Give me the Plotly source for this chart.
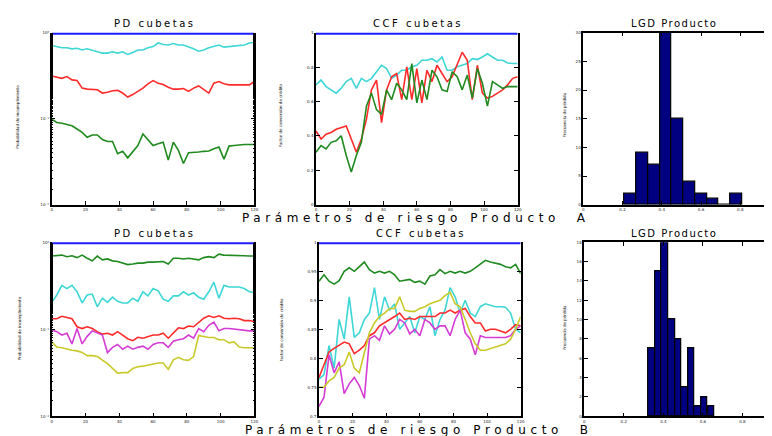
import plotly.graph_objects as go

# ---------------- data ----------------
periods = list(range(0, 121, 3))

pd_a_bucket1 = [1.0] * 41
pd_a_cyan = [0.71,0.69,0.67,0.67,0.65,0.66,0.63,0.65,0.62,0.60,0.58,0.58,0.60,0.58,0.60,0.56,0.59,0.63,0.63,0.67,0.69,0.76,0.73,0.72,0.75,0.72,0.72,0.69,0.65,0.61,0.63,0.67,0.69,0.72,0.68,0.69,0.70,0.72,0.72,0.76,0.77]
pd_a_red = [0.314,0.303,0.295,0.309,0.283,0.278,0.227,0.221,0.221,0.217,0.199,0.203,0.212,0.214,0.199,0.179,0.191,0.208,0.227,0.255,0.278,0.259,0.250,0.233,0.221,0.221,0.225,0.208,0.227,0.241,0.221,0.199,0.259,0.271,0.255,0.248,0.248,0.248,0.248,0.248,0.271]
pd_a_green = [0.0987,0.0904,0.0888,0.0865,0.0828,0.0759,0.0695,0.0609,0.0648,0.0648,0.0573,0.0543,0.0543,0.0393,0.0418,0.0351,0.0410,0.0489,0.0665,0.0573,0.0489,0.0511,0.0534,0.0330,0.0534,0.0429,0.0302,0.0403,0.0403,0.0410,0.0418,0.0422,0.0448,0.0468,0.0339,0.0481,0.0489,0.0498,0.0502,0.0502,0.0502]

ccf_a_bucket1 = [1.0] * 41
ccf_a_cyan = [0.697,0.725,0.687,0.668,0.649,0.677,0.716,0.735,0.677,0.735,0.716,0.735,0.773,0.811,0.792,0.735,0.754,0.782,0.782,0.802,0.811,0.840,0.840,0.849,0.830,0.859,0.782,0.782,0.802,0.811,0.821,0.849,0.844,0.859,0.878,0.859,0.840,0.840,0.824,0.821,0.821]
ccf_a_red = [0.429,0.382,0.410,0.420,0.439,0.448,0.458,0.382,0.305,0.382,0.496,0.668,0.725,0.477,0.668,0.744,0.763,0.611,0.802,0.611,0.792,0.592,0.782,0.716,0.811,0.763,0.716,0.744,0.821,0.887,0.840,0.611,0.811,0.649,0.620,0.630,0.649,0.668,0.697,0.735,0.744]
ccf_a_green = [0.305,0.344,0.324,0.363,0.372,0.401,0.286,0.191,0.286,0.363,0.573,0.649,0.553,0.525,0.668,0.611,0.706,0.668,0.611,0.821,0.592,0.725,0.611,0.782,0.744,0.668,0.658,0.773,0.744,0.668,0.754,0.620,0.792,0.706,0.573,0.716,0.697,0.677,0.687,0.687,0.687]

lgd_a_bins = [0.24,0.30,0.36,0.42,0.48,0.54,0.60,0.66,0.72,0.78]
lgd_a_counts = [2,9,7,30,15,4,2,1,0,2]

pd_b_bucket1 = [1.0] * 41
pd_b_green = [0.695,0.701,0.713,0.684,0.701,0.667,0.713,0.656,0.612,0.695,0.628,0.644,0.612,0.602,0.577,0.554,0.563,0.577,0.577,0.592,0.592,0.592,0.602,0.563,0.656,0.656,0.644,0.656,0.644,0.628,0.667,0.684,0.667,0.732,0.713,0.713,0.713,0.701,0.701,0.695,0.695]
pd_b_cyan = [0.204,0.248,0.320,0.294,0.320,0.270,0.201,0.248,0.254,0.182,0.228,0.204,0.234,0.210,0.201,0.201,0.228,0.210,0.270,0.242,0.294,0.277,0.222,0.210,0.242,0.242,0.270,0.248,0.263,0.234,0.222,0.270,0.348,0.228,0.320,0.306,0.306,0.306,0.294,0.270,0.263]
pd_b_red = [0.132,0.132,0.141,0.137,0.132,0.107,0.102,0.107,0.102,0.094,0.088,0.090,0.086,0.094,0.085,0.078,0.074,0.081,0.079,0.083,0.086,0.086,0.090,0.079,0.090,0.104,0.102,0.109,0.107,0.121,0.134,0.143,0.137,0.143,0.134,0.132,0.134,0.132,0.126,0.126,0.123]
pd_b_magenta = [0.098,0.094,0.086,0.090,0.068,0.102,0.068,0.083,0.096,0.090,0.086,0.054,0.062,0.067,0.059,0.064,0.059,0.062,0.064,0.059,0.067,0.070,0.070,0.062,0.073,0.076,0.078,0.086,0.079,0.102,0.094,0.111,0.121,0.096,0.102,0.102,0.100,0.098,0.098,0.096,0.096]
pd_b_yellow = [0.0716,0.0626,0.0615,0.0590,0.0575,0.0565,0.0542,0.0498,0.0498,0.0486,0.0446,0.0403,0.0355,0.0313,0.0318,0.0318,0.0355,0.0371,0.0377,0.0386,0.0403,0.0410,0.0410,0.0346,0.0446,0.0477,0.0446,0.0439,0.0486,0.0848,0.0827,0.0806,0.0806,0.0760,0.0760,0.0698,0.0716,0.0626,0.0615,0.0615,0.0615]

ccf_b_bucket1 = [1.0] * 41
ccf_b_green = [0.933,0.944,0.933,0.928,0.934,0.950,0.956,0.950,0.958,0.966,0.953,0.947,0.950,0.947,0.950,0.944,0.933,0.934,0.936,0.931,0.933,0.928,0.942,0.944,0.953,0.946,0.950,0.947,0.950,0.947,0.950,0.956,0.962,0.969,0.966,0.964,0.962,0.958,0.956,0.962,0.946]
ccf_b_cyan = [0.764,0.772,0.822,0.783,0.867,0.833,0.906,0.836,0.844,0.867,0.878,0.922,0.867,0.906,0.883,0.894,0.850,0.861,0.872,0.844,0.872,0.867,0.889,0.839,0.867,0.883,0.922,0.906,0.878,0.900,0.878,0.872,0.889,0.894,0.892,0.889,0.889,0.888,0.878,0.850,0.844]
ccf_b_red = [0.767,0.789,0.811,0.817,0.822,0.828,0.825,0.808,0.814,0.822,0.839,0.844,0.856,0.861,0.867,0.872,0.878,0.867,0.869,0.867,0.872,0.872,0.872,0.872,0.878,0.878,0.883,0.878,0.883,0.886,0.872,0.861,0.861,0.847,0.850,0.850,0.847,0.844,0.850,0.858,0.856]
ccf_b_magenta = [0.717,0.733,0.806,0.775,0.794,0.739,0.756,0.767,0.753,0.731,0.833,0.839,0.831,0.856,0.842,0.850,0.867,0.861,0.842,0.850,0.839,0.867,0.861,0.850,0.856,0.856,0.839,0.867,0.883,0.844,0.833,0.806,0.839,0.836,0.836,0.836,0.836,0.836,0.839,0.850,0.856]
ccf_b_yellow = [0.750,0.750,0.761,0.767,0.783,0.789,0.811,0.783,0.775,0.811,0.844,0.861,0.872,0.878,0.886,0.886,0.906,0.883,0.881,0.881,0.886,0.889,0.894,0.897,0.900,0.908,0.914,0.894,0.889,0.867,0.844,0.825,0.814,0.814,0.817,0.819,0.822,0.825,0.833,0.850,0.872]

lgd_b_bins = [0.342,0.375,0.408,0.442,0.475,0.508,0.542,0.575,0.608,0.642]
lgd_b_counts = [7,15,18,10,8,3,7,1,2,1]

# ---------------- styles ----------------
BLUE = "#1e1eff"
CYAN = "#3fd6d6"
RED = "#ff2a2a"
GREEN = "#1f8a1f"
MAGENTA = "#d43cd4"
YELLOW = "#c9c92a"
NAVY = "#000080"

W, H = 772, 436
def px_x(a, b):
    return [a / W, b / W]
def px_y(top, bottom):
    return [1 - bottom / H, 1 - top / H]

fig = go.Figure()

def line(x, y, color, ax, width=1.6):
    fig.add_trace(go.Scatter(x=x, y=y, mode="lines", line=dict(color=color, width=width),
                             xaxis="x" + ax, yaxis="y" + ax, showlegend=False, hoverinfo="skip"))

# Panel A
line(periods, pd_a_bucket1, BLUE, "", 4)
line(periods, pd_a_cyan, CYAN, "")
line(periods, pd_a_red, RED, "")
line(periods, pd_a_green, GREEN, "")

line(periods, ccf_a_bucket1, BLUE, "2", 4)
line(periods, ccf_a_cyan, CYAN, "2")
line(periods, ccf_a_red, RED, "2")
line(periods, ccf_a_green, GREEN, "2")

fig.add_trace(go.Bar(x=lgd_a_bins, y=lgd_a_counts, width=0.06, marker=dict(color=NAVY, line=dict(color="black", width=1.2)),
                     xaxis="x3", yaxis="y3", showlegend=False, hoverinfo="skip"))

# Panel B
line(periods, pd_b_bucket1, BLUE, "4", 4)
line(periods, pd_b_green, GREEN, "4")
line(periods, pd_b_cyan, CYAN, "4")
line(periods, pd_b_red, RED, "4")
line(periods, pd_b_magenta, MAGENTA, "4")
line(periods, pd_b_yellow, YELLOW, "4")

line(periods, ccf_b_bucket1, BLUE, "5", 4)
line(periods, ccf_b_green, GREEN, "5")
line(periods, ccf_b_cyan, CYAN, "5")
line(periods, ccf_b_red, RED, "5")
line(periods, ccf_b_magenta, MAGENTA, "5")
line(periods, ccf_b_yellow, YELLOW, "5")

fig.add_trace(go.Bar(x=lgd_b_bins, y=lgd_b_counts, width=0.0333, marker=dict(color=NAVY, line=dict(color="black", width=1.2)),
                     xaxis="x6", yaxis="y6", showlegend=False, hoverinfo="skip"))

tickfont = dict(size=4, color="#222222", family="DejaVu Sans")
base = dict(showline=True, linecolor="black", linewidth=1.5, ticks="inside", ticklen=4,
            tickcolor="black", showgrid=False, zeroline=False, tickfont=tickfont)

def xax(dom, rng, dtick, anchor, mirror):
    d = dict(base); d.update(domain=dom, range=rng, dtick=dtick, anchor=anchor, mirror=mirror,
                             ticklabelstandoff=0)
    return d

def yax(dom, rng, anchor, **kw):
    d = dict(base); d.update(domain=dom, range=rng, anchor=anchor, mirror="ticks"); d.update(kw)
    return d

ytA = px_y(22, 196)
ytB = px_y(234, 410)
log_ticks = dict(type="log", tickvals=[0.01, 0.1, 1], ticktext=["10⁻²", "10⁻¹", "10⁰"],
                 minor=dict(ticks="inside", ticklen=2, tickcolor="black", showgrid=False))

fig.update_layout(
    width=W, height=H, margin=dict(l=0, r=0, t=0, b=0),
    paper_bgcolor="white", plot_bgcolor="white", bargap=0,
    xaxis=xax(px_x(43, 247), [0, 120], 20, "y", False),
    yaxis=yax(ytA, [-2, 0], "x", **log_ticks),
    xaxis2=xax(px_x(309, 512), [0, 120], 20, "y2", False),
    yaxis2=yax(ytA, [0, 1], "x2", dtick=0.2),
    xaxis3=xax(px_x(578, 772), [0, 0.982], 0.2, "y3", "ticks"),
    yaxis3=yax(ytA, [0, 30], "x3", dtick=5),
    xaxis4=xax(px_x(43, 247), [0, 120], 20, "y4", False),
    yaxis4=yax(ytB, [-2, 0], "x4", **log_ticks),
    xaxis5=xax(px_x(312, 515), [0, 120], 20, "y5", False),
    yaxis5=yax(ytB, [0.7, 1.0], "x5", dtick=0.05),
    xaxis6=xax(px_x(579, 772), [0, 0.97], 0.2, "y6", "ticks"),
    yaxis6=yax(ytB, [0, 18], "x6", dtick=2),
)

def ann(text, xpx, ypx, font, angle=0, spacing=None):
    if spacing is not None:
        text = '<span style="letter-spacing:%spx">%s</span>' % (spacing, text)
    fig.add_annotation(text=text, x=xpx / W, y=1 - ypx / H, xref="paper", yref="paper",
                       showarrow=False, font=font, textangle=angle, xanchor="center", yanchor="middle")

title_font = dict(size=10, color="black", family="DejaVu Sans")
ann("PD cubetas", 147, 13, title_font, spacing=2.5)
ann("CCF cubetas", 412, 13, title_font, spacing=2.5)
ann("LGD Producto", 669, 13, title_font, spacing=1.5)
ann("PD cubetas", 147, 225, title_font, spacing=2.5)
ann("CCF cubetas", 415, 225, title_font, spacing=2.5)
ann("LGD Producto", 669, 225, title_font, spacing=1.5)

xlab_font = dict(size=12, color="black", family="DejaVu Sans")
ann("Parámetros de riesgo Producto\u00a0\u00a0A", 410, 209, xlab_font, spacing=4.6)
ann("Parámetros de riesgo Producto\u00a0\u00a0B", 413, 424, xlab_font, spacing=4.6)

ylab_font = dict(size=4, color="black", family="DejaVu Sans")
ann("Probabilidad de incumplimiento", 9, 107, ylab_font, -90)
ann("Factor de conversión de crédito", 274, 105, ylab_font, -90)
ann("Frecuencia de pérdida", 559, 105, ylab_font, -90)
ann("Probabilidad de incumplimiento", 10, 321, ylab_font, -90)
ann("Factor de conversión de crédito", 274, 322, ylab_font, -90)
ann("Frecuencia de pérdida", 559, 320, ylab_font, -90)

fig.write_html("out.html")
